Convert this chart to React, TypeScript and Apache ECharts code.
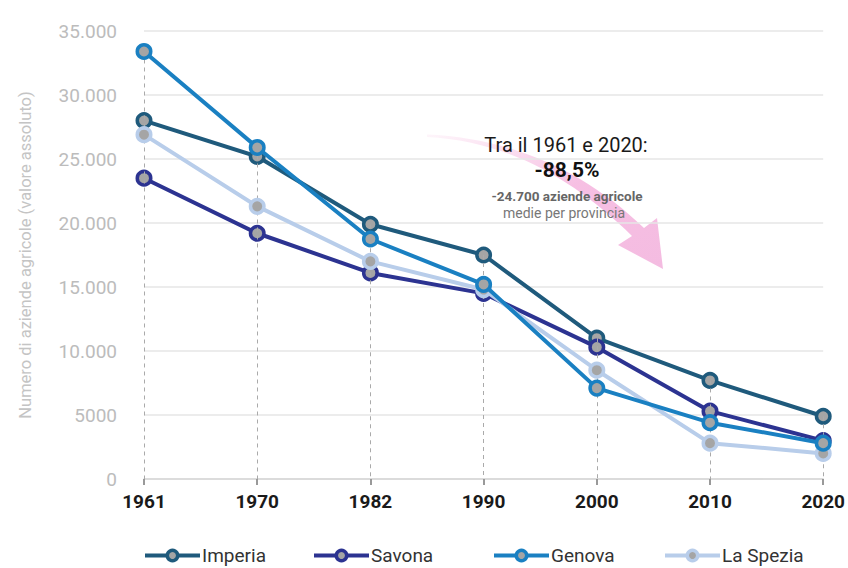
import React, { useEffect, useRef } from "react";
import * as echarts from "echarts";

const years = ["1961", "1970", "1982", "1990", "2000", "2010", "2020"];
const imperia = [28000, 25200, 19900, 17500, 11000, 7700, 4900];
const savona = [23500, 19200, 16100, 14500, 10300, 5300, 3000];
const genova = [33400, 25900, 18750, 15200, 7100, 4400, 2800];
const laSpezia = [26900, 21300, 17000, 14800, 8500, 2800, 2000];
const seriesNames = ["Imperia", "Savona", "Genova", "La Spezia"];
const seriesColors = ["#1f5a7c", "#2c3391", "#1a80c2", "#b8cdea"];
const yTicks = { min: 0, max: 35000, interval: 5000 };
const yName = "Numero di aziende agricole (valore assoluto)";
const noteLines = ["Tra il 1961 e 2020:", "-88,5%", "-24.700 aziende agricole", "medie per provincia"];

const ARROW_D =
  "M427,134.5 C510,138 584,170 644,228 L657,218 L663,269 L618,245 L632,236 C577,182 510,141 427,137 Z";

let registered = false;

function fmt(v: number): string {
  if (v >= 10000) {
    const s = String(v);
    return s.slice(0, s.length - 3) + "." + s.slice(s.length - 3);
  }
  return String(v);
}

export default function App() {
  const ref = useRef<HTMLDivElement>(null);
  useEffect(() => {
    document.body.style.margin = "0";
    if (!registered) {
      echarts.graphic.registerShape("arrowShape", echarts.graphic.extendPath(ARROW_D, {}) as any);
      registered = true;
    }
    const chart = echarts.init(ref.current!, null, { renderer: "svg" });
    const all = [imperia, savona, genova, laSpezia];
    const maxes = years.map((_, i) => Math.max(...all.map((a) => a[i])));
    const font = "Roboto, 'DejaVu Sans', sans-serif";
    const mkSeries = (name: string, data: number[], color: string, z: number) => ({
      name,
      type: "line",
      data,
      z,
      symbol: "circle",
      symbolSize: 13.5,
      showSymbol: true,
      lineStyle: { color, width: 4 },
      itemStyle: { color: "#a5a5a5", borderColor: color, borderWidth: 3.5 },
      emphasis: { disabled: true },
    });
    const legendLefts = [143, 312, 492, 663];
    chart.setOption({
      animation: false,
      textStyle: { fontFamily: font },
      grid: { left: 144, right: 23, top: 31, bottom: 89, containLabel: false },
      legend: seriesNames.map((n, i) => ({
        data: [n],
        bottom: 3,
        left: legendLefts[i],
        padding: 0,
        itemWidth: 55,
        itemHeight: 13,
        lineStyle: { width: 4 },
        itemStyle: { borderWidth: 3.5 },
        textStyle: { fontSize: 19, color: "#333", fontFamily: font, padding: [0, 0, 0, -3] },
      })),
      xAxis: {
        type: "category",
        data: years,
        boundaryGap: false,
        axisLine: { lineStyle: { color: "#d6d6d6", width: 1.5 } },
        axisTick: { show: true, length: 6, lineStyle: { color: "#999", width: 2 } },
        axisLabel: { fontSize: 19, fontWeight: "bold", color: "#1a1a1a", margin: 13, fontFamily: font },
        splitLine: { show: false },
      },
      yAxis: {
        type: "value",
        min: yTicks.min,
        max: yTicks.max,
        interval: yTicks.interval,
        name: yName,
        nameLocation: "middle",
        nameGap: 110,
        nameTextStyle: { fontSize: 16.5, color: "#c4c4c4", fontFamily: font },
        axisLine: { show: false },
        axisTick: { show: false },
        axisLabel: { fontSize: 19, color: "#bcbcbc", margin: 27, formatter: (v: number) => fmt(v), fontFamily: font },
        splitLine: { show: true, lineStyle: { color: "#e6e6e6", width: 1.5 } },
      },
      series: [
        {
          name: "drop",
          type: "line",
          data: maxes,
          symbol: "none",
          lineStyle: { opacity: 0 },
          z: 1,
          silent: true,
          markLine: {
            silent: true,
            symbol: "none",
            label: { show: false },
            lineStyle: { color: "#aaaaaa", type: [4, 4], width: 1 },
            data: maxes.map((m, i) => [{ coord: [i, m] }, { coord: [i, 0] }]),
          },
        },
        mkSeries(seriesNames[0], imperia, seriesColors[0], 3),
        mkSeries(seriesNames[1], savona, seriesColors[1], 4),
        mkSeries(seriesNames[3], laSpezia, seriesColors[3], 5),
        mkSeries(seriesNames[2], genova, seriesColors[2], 6),
      ],
      graphic: [
        {
          type: "arrowShape",
          x: 0,
          y: 0,
          z: 0,
          silent: true,
          style: {
            fill: new echarts.graphic.LinearGradient(0, 0, 1, 1, [
              { offset: 0, color: "rgba(246,190,225,0.15)" },
              { offset: 0.5, color: "rgba(245,180,222,0.85)" },
              { offset: 1, color: "#f4bce1" },
            ]),
          },
        },
        {
          type: "text",
          x: 566,
          y: 145,
          z: 10,
          style: { text: noteLines[0], fontSize: 20, fill: "#1a1a1a", align: "center", verticalAlign: "middle", fontFamily: font },
        },
        {
          type: "text",
          x: 567,
          y: 170,
          z: 10,
          style: { text: noteLines[1], fontSize: 21, fontWeight: "bold", fill: "#111", align: "center", verticalAlign: "middle", fontFamily: font },
        },
        {
          type: "text",
          x: 567,
          y: 196,
          z: 10,
          style: { text: noteLines[2], fontSize: 13.5, fontWeight: "bold", fill: "#666", align: "center", verticalAlign: "middle", fontFamily: font },
        },
        {
          type: "text",
          x: 564,
          y: 213,
          z: 10,
          style: { text: noteLines[3], fontSize: 14, fill: "#777", align: "center", verticalAlign: "middle", fontFamily: font },
        },
      ],
    });
    return () => chart.dispose();
  }, []);
  return <div ref={ref} style={{ position: "absolute", left: 0, top: 0, width: 848, height: 568 }} />;
}
